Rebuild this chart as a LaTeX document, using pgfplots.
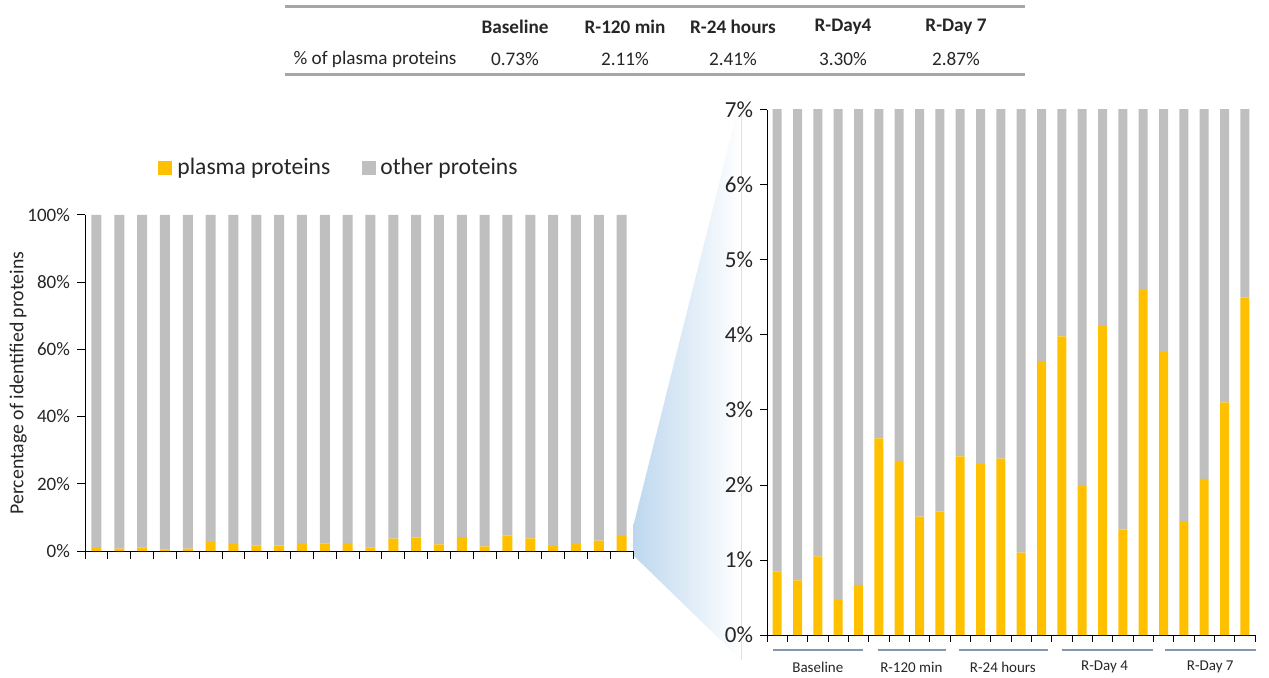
\documentclass[border=0pt]{standalone}
\usepackage{pgfplots}
\pgfplotsset{compat=1.18}
\usepackage{pgfplotstable}
\usepackage{fontspec}
\setmainfont{Carlito}
\definecolor{plasma}{HTML}{FFC000}
\definecolor{other}{HTML}{BFBFBF}
\definecolor{rulec}{HTML}{A6A6A6}
\definecolor{wedge}{HTML}{BDD7EE}
\definecolor{grp}{HTML}{8497B0}
\definecolor{txt}{HTML}{262626}

\pgfplotstableread{
idx plasma other
1 0.85 99.15
2 0.73 99.27
3 1.05 98.95
4 0.47 99.53
5 0.67 99.33
6 2.62 97.38
7 2.32 97.68
8 1.58 98.42
9 1.65 98.35
10 2.38 97.62
11 2.28 97.72
12 2.35 97.65
13 1.10 98.90
14 3.65 96.35
15 3.98 96.02
16 2.00 98.00
17 4.12 95.88
18 1.41 98.59
19 4.60 95.40
20 3.77 96.23
21 1.52 98.48
22 2.08 97.92
23 3.10 96.90
24 4.50 95.50
}\data

\begin{document}
\begin{tikzpicture}
\useasboundingbox (0,0) rectangle (634.5pt,-339pt);
\begin{scope}[x=0.5pt,y=-0.5pt]
  % zoom wedge
  \shade[left color=wedge, right color=white] (633,527) -- (737,112) -- (741,112) -- (741,660) -- (633,555) -- cycle;
  \draw[black!12, line width=0.4pt] (741,112) -- (741,660);
  % table
  \draw[rulec, line width=1.5pt] (285,7) -- (1025,7);
  \draw[rulec, line width=1.5pt] (285,75) -- (1025,75);
  \begin{scope}[every node/.style={font=\fontsize{9.6}{11}\selectfont, text=txt, anchor=center}]
    \node[font=\fontsize{9.6}{11}\selectfont\bfseries] at (515,27) {Baseline};
    \node[font=\fontsize{9.6}{11}\selectfont\bfseries] at (625,27) {R-120 min};
    \node[font=\fontsize{9.6}{11}\selectfont\bfseries] at (733,27) {R-24 hours};
    \node[font=\fontsize{9.6}{11}\selectfont\bfseries] at (843,27) {R-Day4};
    \node[font=\fontsize{9.6}{11}\selectfont\bfseries] at (956,27) {R-Day 7};
    \node at (375,59) {\% of plasma proteins};
    \node at (515,59) {0.73\%};
    \node at (625,59) {2.11\%};
    \node at (733,59) {2.41\%};
    \node at (843,59) {3.30\%};
    \node at (956,59) {2.87\%};
  \end{scope}
  % legend
  \fill[plasma] (158,161) rectangle (172,175);
  \node[anchor=west, inner sep=0pt, text=txt, font=\fontsize{11.8}{14}\selectfont] at (177,168) {plasma proteins};
  \fill[other] (362,161) rectangle (376,175);
  \node[anchor=west, inner sep=0pt, text=txt, font=\fontsize{11.8}{14}\selectfont] at (380,168) {other proteins};
\end{scope}

% left overview chart
\begin{axis}[
  at={(42.5pt,-275.5pt)}, anchor=south west,
  scale only axis, width=274pt, height=168pt,
  xmin=0.5, xmax=24.5, ymin=0, ymax=100,
  ybar stacked, bar width=5pt,
  axis x line*=bottom, axis y line*=left,
  axis line style={-, black, line width=0.5pt},
  xtick={0.5,1.5,...,24.5}, xticklabels={},
  ytick={0,20,40,60,80,100},
  yticklabels={0\%,20\%,40\%,60\%,80\%,100\%},
  tick align=outside, major tick length=4pt,
  tick style={black, line width=0.5pt},
  ticklabel style={font=\fontsize{9.5}{11}\selectfont, text=txt},
  ylabel={Percentage of identified proteins},
  ylabel style={at={(axis description cs:-0.122,0.5)}, anchor=center, font=\fontsize{9.9}{11}\selectfont, text=txt},
]
\addplot[fill=plasma, draw=none] table[x=idx, y=plasma]{\data};
\addplot[fill=other, draw=none] table[x=idx, y=other]{\data};
\end{axis}

% right zoomed chart
\begin{axis}[
  at={(383.5pt,-317.5pt)}, anchor=south west,
  scale only axis, width=244pt, height=262.5pt,
  xmin=0.5, xmax=24.5, ymin=0, ymax=7,
  ybar stacked, bar width=4.5pt,
  axis x line*=bottom, axis y line*=left,
  axis line style={-, black, line width=0.5pt},
  xtick={0.5,1.5,...,24.5}, xticklabels={},
  ytick={0,1,2,3,4,5,6,7},
  yticklabels={0\%,1\%,2\%,3\%,4\%,5\%,6\%,7\%},
  tick align=outside, major tick length=3.5pt,
  tick style={black, line width=0.5pt},
  ticklabel style={font=\fontsize{11.5}{13}\selectfont, text=txt},
]
\addplot[fill=plasma, draw=none] table[x=idx, y=plasma]{\data};
\addplot[fill=other, draw=none] table[x=idx, y=other]{\data};
\coordinate (a1) at (axis cs:0.80,-0.2);  \coordinate (b1) at (axis cs:5.22,-0.2);
\coordinate (a2) at (axis cs:5.96,-0.2);  \coordinate (b2) at (axis cs:9.30,-0.2);
\coordinate (a3) at (axis cs:9.94,-0.2);  \coordinate (b3) at (axis cs:14.32,-0.2);
\coordinate (a4) at (axis cs:15.00,-0.2); \coordinate (b4) at (axis cs:19.50,-0.2);
\coordinate (a5) at (axis cs:20.08,-0.2); \coordinate (b5) at (axis cs:24.55,-0.2);
\coordinate (l1) at (axis cs:3.0,-0.43);
\coordinate (l2) at (axis cs:7.6,-0.43);
\coordinate (l3) at (axis cs:12.1,-0.43);
\coordinate (l4) at (axis cs:17.1,-0.43);
\coordinate (l5) at (axis cs:22.3,-0.43);
\end{axis}
\foreach \i in {1,...,5} {\draw[grp, line width=1pt] (a\i) -- (b\i);}
\begin{scope}[every node/.style={font=\fontsize{7.5}{9}\selectfont, text=txt, anchor=center}]
\node at (l1) {Baseline};
\node at (l2) {R-120 min};
\node at (l3) {R-24 hours};
\node at (l4) {R-Day 4};
\node at (l5) {R-Day 7};
\end{scope}
\end{tikzpicture}
\end{document}
